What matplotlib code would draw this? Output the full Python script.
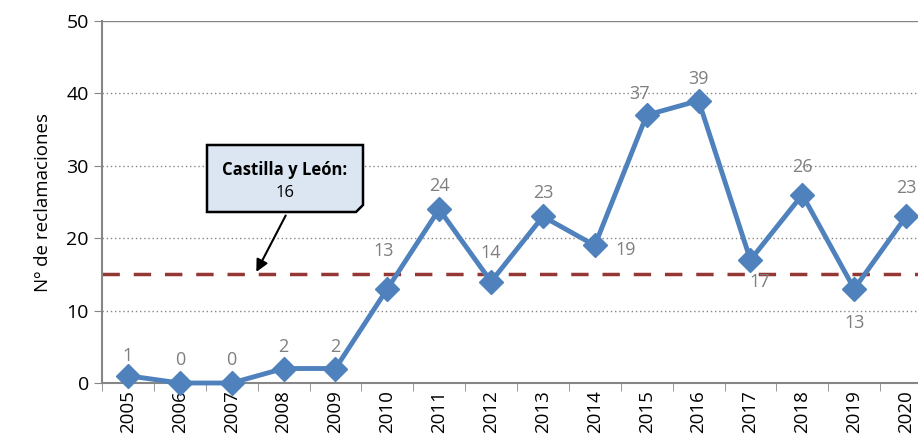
import matplotlib.pyplot as plt
from matplotlib.patches import Polygon

years = ['2005', '2006', '2007', '2008', '2009', '2010', '2011', '2012',
         '2013', '2014', '2015', '2016', '2017', '2018', '2019', '2020']
reclamaciones = [1, 0, 0, 2, 2, 13, 24, 14, 23, 19, 37, 39, 17, 26, 13, 23]
media_cyl = 15
label_text = 'Castilla y León:'
label_value = '16'

# data label position relative to its point, in pixels (dx right, dy up)
offsets_px = [(0, 20), (0, 23), (0, 23), (0, 22), (0, 22), (-4, 38), (0, 23), (0, 29),
              (0, 23), (31, -5), (-7, 21), (0, 22), (9, -22), (0, 28), (0, -34), (0, 28)]

plt.rcParams['font.family'] = ['Open Sans', 'DejaVu Sans']

fig = plt.figure(figsize=(9.18, 4.41), dpi=100)
ax = fig.add_axes([102 / 918, 58 / 441, 830 / 918, 362 / 441])

x = range(len(years))
ax.axhline(media_cyl, color='#953735', lw=2.5, ls=(0, (5, 4)), zorder=2)
ax.plot(x, reclamaciones, color='#4F81BD', lw=3.5, marker='D', ms=12,
        zorder=3, clip_on=False)

for i, v in enumerate(reclamaciones):
    dx, dy = offsets_px[i]
    ax.annotate(str(v), (i, v), xytext=(dx * 0.72, dy * 0.72), textcoords='offset points',
                ha='center', va='center', fontsize=13, color='#7F7F7F')

ax.set_xlim(-0.5, len(years) - 0.5)
ax.set_ylim(0, 50)
ax.set_yticks(range(0, 51, 10))
ax.set_xticks(x)
ax.set_xticklabels(years, rotation=90, fontsize=13.5)
ax.set_xticks([i + 0.5 for i in range(-1, len(years))], minor=True)
ax.tick_params(axis='x', which='major', length=0, pad=5)
ax.tick_params(axis='x', which='minor', length=6, color='#868686', direction='out')
ax.tick_params(axis='y', length=6, color='#868686', labelsize=14, direction='out')
ax.set_ylabel('Nº de reclamaciones', fontsize=13.5, labelpad=10)

for yv in range(10, 50, 10):
    ax.axhline(yv, color='#868686', lw=1, ls=(0, (1, 2)), zorder=1)
ax.axhline(50, color='#868686', lw=1, zorder=1)

for s in ['top', 'right']:
    ax.spines[s].set_visible(False)
ax.spines['left'].set_color('#868686')
ax.spines['bottom'].set_color('#868686')
ax.spines['left'].set_linewidth(1.5)
ax.spines['bottom'].set_linewidth(1.5)

# callout box with folded corner, drawn in figure pixels
def fpx(px, py):
    return (px / 918, 1 - py / 441)

x0, x1, y0, y1, c = 207, 363, 145, 212, 7
box = Polygon([fpx(x0, y0), fpx(x1, y0), fpx(x1, y1 - c), fpx(x1 - c, y1), fpx(x0, y1)],
              closed=True, transform=fig.transFigure, facecolor='#DCE6F2',
              edgecolor='black', lw=1.8, zorder=5)
fig.patches.append(box)
fig.text(*fpx((x0 + x1) / 2, 170), label_text, ha='center', va='center',
         fontsize=12, fontweight='bold', zorder=6)
fig.text(*fpx((x0 + x1) / 2, 193), label_value, ha='center', va='center',
         fontsize=12, zorder=6)

ax.annotate('', xy=(2.45, media_cyl), xytext=fpx(287, 213), textcoords='figure fraction',
            arrowprops=dict(arrowstyle='-|>', color='black', lw=1.5, mutation_scale=18),
            zorder=6)

fig.savefig('out.png', dpi=100)
